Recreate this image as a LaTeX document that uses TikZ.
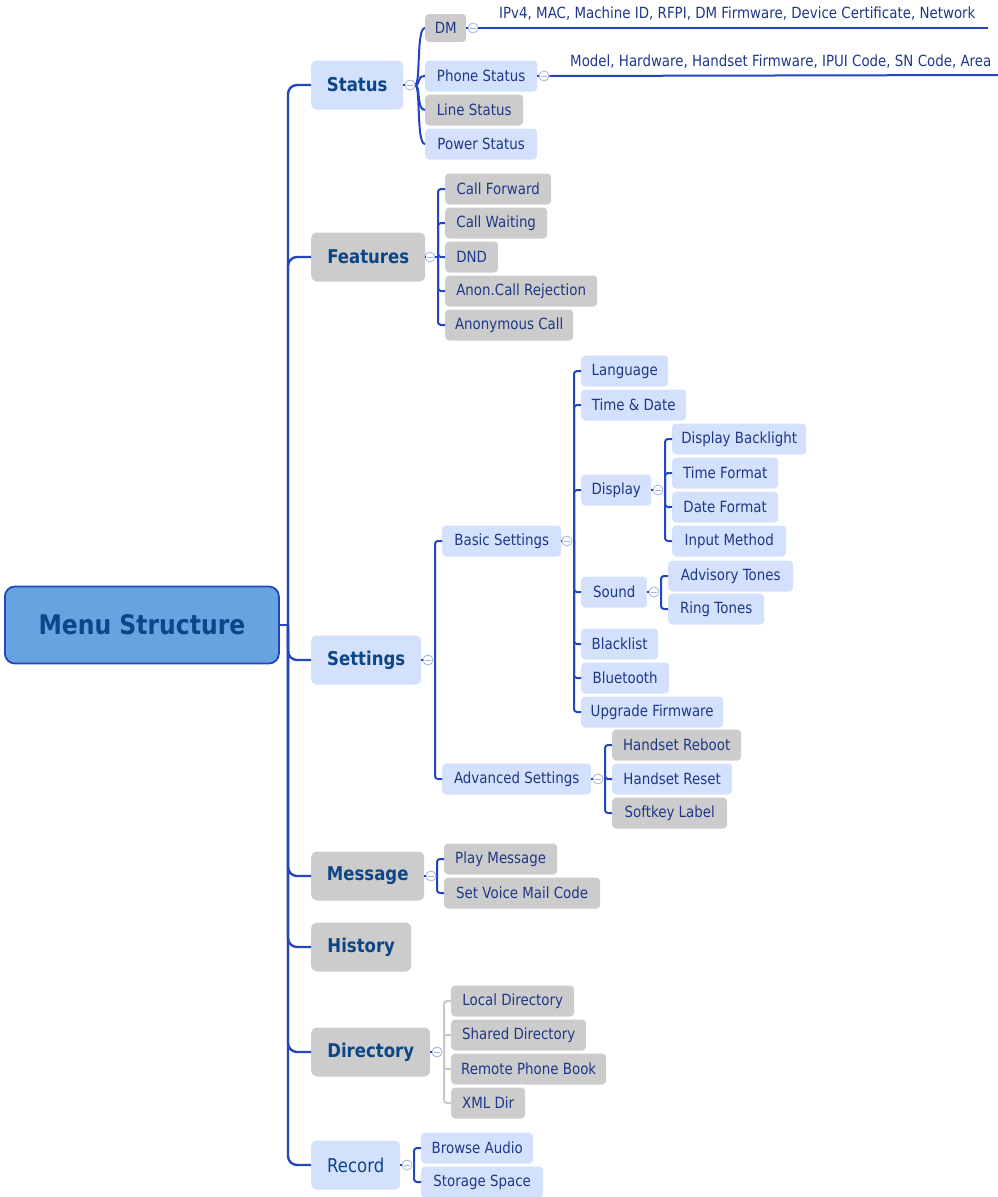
\documentclass[tikz,border=0pt]{standalone}
\usepackage{fontspec}
\setmainfont{DejaVu Sans}[FakeStretch=0.87]
\definecolor{lblue}{RGB}{212,225,252}
\definecolor{lgray}{RGB}{204,204,204}
\definecolor{tblue}{RGB}{30,56,135}
\definecolor{navy}{RGB}{12,70,135}
\definecolor{rootfill}{RGB}{102,163,224}
\definecolor{conn}{RGB}{35,70,192}
\definecolor{cbord}{RGB}{160,178,225}
\definecolor{dconn}{RGB}{200,200,200}
\tikzset{
  bx/.style={anchor=west, inner sep=0pt, rounded corners=4pt, minimum height=31pt, text=tblue, font=\fontsize{15.4}{17}\selectfont},
  bl/.style={bx, fill=lblue},
  bg/.style={bx, fill=lgray},
  lv/.style={anchor=west, inner sep=0pt, rounded corners=6pt, minimum height=49pt, text=navy, font=\fontsize{19}{22}\selectfont\bfseries},
  lvb/.style={lv, fill=lblue},
  lvg/.style={lv, fill=lgray},
  cn/.style={draw=conn, line width=2pt},
  trunk/.style={draw=conn, line width=2.4pt, rounded corners=9pt},
  brk/.style={draw=conn, line width=2pt, rounded corners=3pt},
  coll/.style={circle, draw=cbord, fill=white, inner sep=0pt, minimum size=10pt, line width=0.8pt,
    path picture={\draw[cbord, line width=0.8pt] ([xshift=-2.6pt]path picture bounding box.center) -- ([xshift=2.6pt]path picture bounding box.center);}},
  dotc/.style={draw=conn, line width=1.2pt, densely dotted},
  note/.style={anchor=base west, inner sep=0pt, text=tblue, font=\fontsize{15.4}{17}\selectfont}
}
\begin{document}
\begin{tikzpicture}[x=1pt, y=-1pt]
\useasboundingbox (0,0) rectangle (998,1197);

% ---------- root ----------
\node[anchor=west, inner sep=0pt, rounded corners=10pt, fill=rootfill, draw=conn, line width=1.8pt,
  minimum width=274pt, minimum height=77pt, text=navy, font=\fontsize{27}{30}\selectfont\bfseries] (root) at (4,625) {Menu Structure};

% ---------- level 1 ----------
\node[lvb, minimum width=92pt] (status) at (311,85) {Status};
\node[lvg, minimum width=114pt] (features) at (311,257) {Features};
\node[lvb, minimum width=110pt] (settings) at (311,660) {Settings};
\node[lvg, minimum width=113pt] (message) at (311,876) {Message};
\node[lvg, minimum width=100pt] (history) at (311,947) {History};
\node[lvg, minimum width=119pt] (directory) at (311,1052) {Directory};
\node[lvb, minimum width=89pt, font=\fontsize{19}{22}\selectfont] (record) at (311,1165) {Record};

\coordinate (tr) at (288,625);
\draw[cn, line width=2.4pt] (root.east) -- (tr);
\foreach \n in {status,features,settings,message,history,directory,record}
  \draw[trunk] (tr) |- (\n.west);

% ---------- Status ----------
\node[bg, minimum width=41pt, minimum height=28pt] (dm) at (425,28) {DM};
\node[bl, minimum width=112pt] (phone) at (425,76) {Phone Status};
\node[bg, minimum width=98pt] (line) at (425,110) {Line Status};
\node[bl, minimum width=112pt] (power) at (425,144) {Power Status};
\coordinate (sj) at (415,85);
\foreach \n in {dm,phone,line,power}
  \draw[cn] (sj) .. controls (421,85) and (416,0|-\n.west) .. (\n.west);
\node[coll] (sc) at (410,85) {};
\draw[dotc] (status.east) -- (sc.west);

\coordinate (dmend) at (988,28);
\node[coll] (dmc) at (473,28) {};
\draw[cn] (dmc.east) -- (dmend);
\draw[dotc] (dm.east) -- (dmc.west);
\node[note] (dmtext) at (499,18) {IPv4, MAC, Machine ID, RFPI, DM Firmware, Device Certificate, Network};

\coordinate (phend) at (998,75);
\node[coll] (phc) at (544,76) {};
\draw[cn] (phc.east) -- (phend);
\draw[dotc] (phone.east) -- (phc.west);
\node[note] (phtext) at (570,66) {Model, Hardware, Handset Firmware, IPUI Code, SN Code, Area};

% ---------- Features ----------
\node[bg, minimum width=106pt] (cf) at (445,189) {Call Forward};
\node[bg, minimum width=102pt] (cw) at (445,223) {Call Waiting};
\node[bg, minimum width=53pt] (dnd) at (445,257) {DND};
\node[bg, minimum width=152pt] (acr) at (445,291) {Anon.Call Rejection};
\node[bg, minimum width=128pt] (ac) at (445,325) {Anonymous Call};
\coordinate (fj) at (438,257);
\foreach \n in {cf,cw,dnd,acr,ac} \draw[brk] (fj) |- (\n.west);
\node[coll] (fc) at (430,257) {};
\draw[dotc] (features.east) -- (fc.west);
\draw[cn] (fc.east) -- (fj);

% ---------- Settings ----------
\node[bl, minimum width=119pt] (basic) at (442,541) {Basic Settings};
\node[bl, minimum width=149pt] (adv) at (442,779) {Advanced Settings};
\coordinate (stj) at (435,660);
\foreach \n in {basic,adv} \draw[brk] (stj) |- (\n.west);
\node[coll] (stc) at (428,660) {};
\draw[dotc] (settings.east) -- (stc.west);

% Basic settings
\node[bl, minimum width=87pt] (lang) at (581,371) {Language};
\node[bl, minimum width=105pt] (td) at (581,405) {Time \& Date};
\node[bl, minimum width=70pt] (disp) at (581,490) {Display};
\node[bl, minimum width=66pt] (sound) at (581,592) {Sound};
\node[bl, minimum width=77pt] (black) at (581,644) {Blacklist};
\node[bl, minimum width=88pt] (bt) at (581,678) {Bluetooth};
\node[bl, minimum width=142pt] (upg) at (581,712) {Upgrade Firmware};
\coordinate (bj) at (574,541);
\foreach \n in {lang,td,disp,sound,black,bt,upg} \draw[brk] (bj) |- (\n.west);
\node[coll] (bc) at (567,541) {};
\draw[dotc] (basic.east) -- (bc.west);

% Display
\node[bl, minimum width=134pt] (dbl) at (672,439) {Display Backlight};
\node[bl, minimum width=106pt] (tf) at (672,473) {Time Format};
\node[bl, minimum width=106pt] (df) at (672,507) {Date Format};
\node[bl, minimum width=114pt] (im) at (672,541) {Input Method};
\coordinate (dj) at (665,490);
\foreach \n in {dbl,tf,df,im} \draw[brk] (dj) |- (\n.west);
\node[coll] (dc) at (658,490) {};
\draw[dotc] (disp.east) -- (dc.west);

% Sound
\node[bl, minimum width=125pt] (adt) at (668,576) {Advisory Tones};
\node[bl, minimum width=96pt] (rt) at (668,609) {Ring Tones};
\coordinate (soj) at (661,592);
\foreach \n in {adt,rt} \draw[brk] (soj) |- (\n.west);
\node[coll] (soc) at (654,592) {};
\draw[dotc] (sound.east) -- (soc.west);

% Advanced
\node[bg, minimum width=129pt] (hrb) at (612,745) {Handset Reboot};
\node[bl, minimum width=120pt] (hrs) at (612,779) {Handset Reset};
\node[bg, minimum width=115pt] (skl) at (612,813) {Softkey Label};
\coordinate (aj) at (605,779);
\foreach \n in {hrb,hrs,skl} \draw[brk] (aj) |- (\n.west);
\node[coll] (acc) at (598,779) {};
\draw[dotc] (adv.east) -- (acc.west);

% ---------- Message ----------
\node[bg, minimum width=113pt] (pm) at (444,859) {Play Message};
\node[bg, minimum width=156pt] (svm) at (444,893) {Set Voice Mail Code};
\coordinate (mj) at (437,876);
\foreach \n in {pm,svm} \draw[brk] (mj) |- (\n.west);
\node[coll] (mc) at (431,876) {};
\draw[dotc] (message.east) -- (mc.west);

% ---------- Directory ----------
\node[bg, minimum width=123pt] (ld) at (451,1001) {Local Directory};
\node[bg, minimum width=135pt] (sd) at (451,1035) {Shared Directory};
\node[bg, minimum width=155pt] (rpb) at (451,1069) {Remote Phone Book};
\node[bg, minimum width=74pt] (xml) at (451,1103) {XML Dir};
\coordinate (drj) at (444,1052);
\foreach \n in {ld,sd,rpb,xml} \draw[brk, draw=dconn] (drj) |- (\n.west);
\node[coll] (drc) at (437,1052) {};
\draw[dotc] (directory.east) -- (drc.west);

% ---------- Record ----------
\node[bl, minimum width=112pt] (ba) at (421,1148) {Browse Audio};
\node[bl, minimum width=122pt] (ss) at (421,1182) {Storage Space};
\coordinate (rj) at (414,1165);
\foreach \n in {ba,ss} \draw[brk] (rj) |- (\n.west);
\node[coll] (rc) at (407,1165) {};
\draw[dotc] (record.east) -- (rc.west);
\end{tikzpicture}
\end{document}
